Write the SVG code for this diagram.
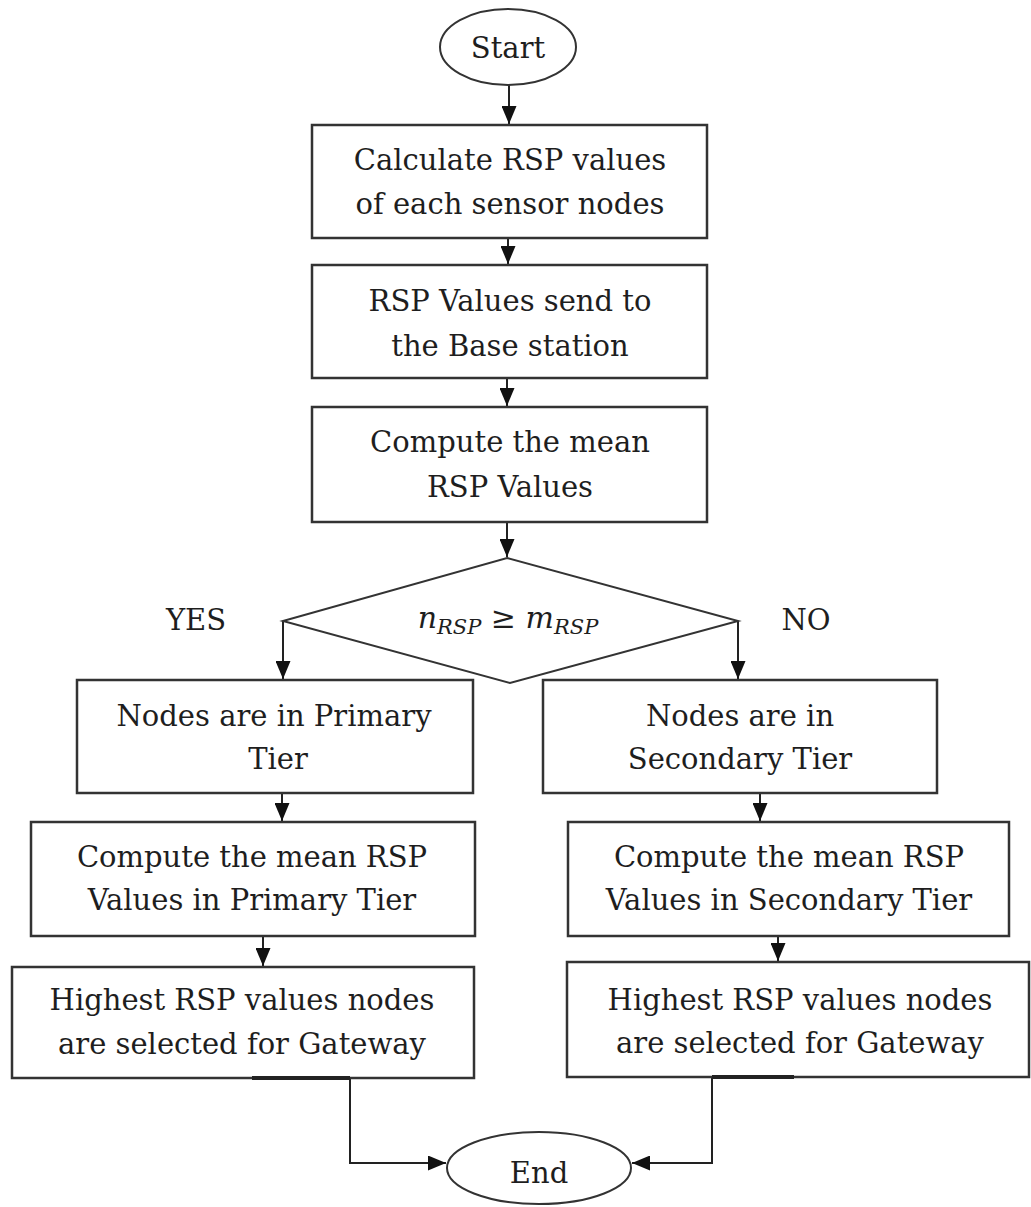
<svg xmlns="http://www.w3.org/2000/svg" width="1031" height="1207" viewBox="0 0 1031 1207">
<defs>
<style>
.box{fill:#fff;stroke:#333;stroke-width:2.5}
.term{fill:#fff;stroke:#333;stroke-width:2}
.t{font-family:"DejaVu Serif","Liberation Serif",serif;font-size:29px;fill:#1e1e1e;text-anchor:middle}
.c{fill:none;stroke:#222;stroke-width:2}
.thick{fill:none;stroke:#222;stroke-width:4}
</style>
<marker id="ah" markerUnits="userSpaceOnUse" markerWidth="18" markerHeight="15" refX="18" refY="7.5" orient="auto">
<path d="M0,0 L18,7.5 L0,15 z" fill="#111"/>
</marker>
</defs>
<rect width="1031" height="1207" fill="#fff"/>

<g id="connectors">
<line class="c" x1="509" y1="84" x2="509" y2="124" marker-end="url(#ah)"/>
<line class="c" x1="508" y1="238" x2="508" y2="264" marker-end="url(#ah)"/>
<line class="c" x1="507" y1="378" x2="507" y2="406" marker-end="url(#ah)"/>
<line class="c" x1="507" y1="522" x2="507" y2="557" marker-end="url(#ah)"/>
<line class="c" x1="283" y1="621" x2="283" y2="679" marker-end="url(#ah)"/>
<line class="c" x1="738" y1="621" x2="738" y2="679" marker-end="url(#ah)"/>
<line class="c" x1="282" y1="793" x2="282" y2="821" marker-end="url(#ah)"/>
<line class="c" x1="263" y1="936" x2="263" y2="966" marker-end="url(#ah)"/>
<line class="c" x1="760" y1="793" x2="760" y2="821" marker-end="url(#ah)"/>
<line class="c" x1="778" y1="936" x2="778" y2="961" marker-end="url(#ah)"/>
<path class="c" d="M350,1078 V1163 H446" marker-end="url(#ah)"/>
<path class="c" d="M712,1077 V1163 H632" marker-end="url(#ah)"/>
</g>

<g id="start">
<ellipse class="term" cx="508" cy="47" rx="68" ry="38"/>
<text class="t" x="508" y="58">Start</text>
</g>

<g id="calc">
<rect class="box" x="312" y="125" width="395" height="113"/>
<text class="t" x="510" y="170">Calculate RSP values</text>
<text class="t" x="510" y="214">of each sensor nodes</text>
</g>

<g id="send">
<rect class="box" x="312" y="265" width="395" height="113"/>
<text class="t" x="510" y="311">RSP Values send to</text>
<text class="t" x="510" y="356">the Base station</text>
</g>

<g id="mean">
<rect class="box" x="312" y="407" width="395" height="115"/>
<text class="t" x="510" y="452">Compute the mean</text>
<text class="t" x="510" y="497">RSP Values</text>
</g>

<g id="decision">
<polygon class="box" points="507,558 738,621 510,683 283,621" style="stroke-width:2"/>
<text class="t" x="508" y="628" style="font-style:italic;font-size:30px">n<tspan font-size="21" dy="6">RSP</tspan><tspan dy="-6" style="font-style:normal"> ≥ </tspan>m<tspan font-size="21" dy="6">RSP</tspan></text>
</g>

<text class="t" x="196" y="630">YES</text>
<text class="t" x="806" y="630">NO</text>

<g id="primary">
<rect class="box" x="77" y="680" width="396" height="113"/>
<text class="t" x="274" y="726">Nodes are in Primary</text>
<text class="t" x="278" y="769">Tier</text>
</g>

<g id="secondary">
<rect class="box" x="543" y="680" width="394" height="113"/>
<text class="t" x="740" y="726">Nodes are in</text>
<text class="t" x="740" y="769">Secondary Tier</text>
</g>

<g id="meanPrimary">
<rect class="box" x="31" y="822" width="444" height="114"/>
<text class="t" x="252" y="867">Compute the mean RSP</text>
<text class="t" x="252" y="910">Values in Primary Tier</text>
</g>

<g id="meanSecondary">
<rect class="box" x="568" y="822" width="441" height="114"/>
<text class="t" x="789" y="867">Compute the mean RSP</text>
<text class="t" x="789" y="910">Values in Secondary Tier</text>
</g>

<g id="gwPrimary">
<rect class="box" x="12" y="967" width="462" height="111"/>
<text class="t" x="242" y="1010">Highest RSP values nodes</text>
<text class="t" x="242" y="1054">are selected for Gateway</text>
</g>

<g id="gwSecondary">
<rect class="box" x="567" y="962" width="462" height="115"/>
<text class="t" x="800" y="1010">Highest RSP values nodes</text>
<text class="t" x="800" y="1053">are selected for Gateway</text>
</g>

<g id="connector-overlays">
<line class="thick" x1="252" y1="1078" x2="350" y2="1078"/>
<line class="thick" x1="712" y1="1077" x2="794" y2="1077"/>
</g>

<g id="end">
<ellipse class="term" cx="539" cy="1168" rx="92" ry="36"/>
<text class="t" x="539" y="1183">End</text>
</g>
</svg>
